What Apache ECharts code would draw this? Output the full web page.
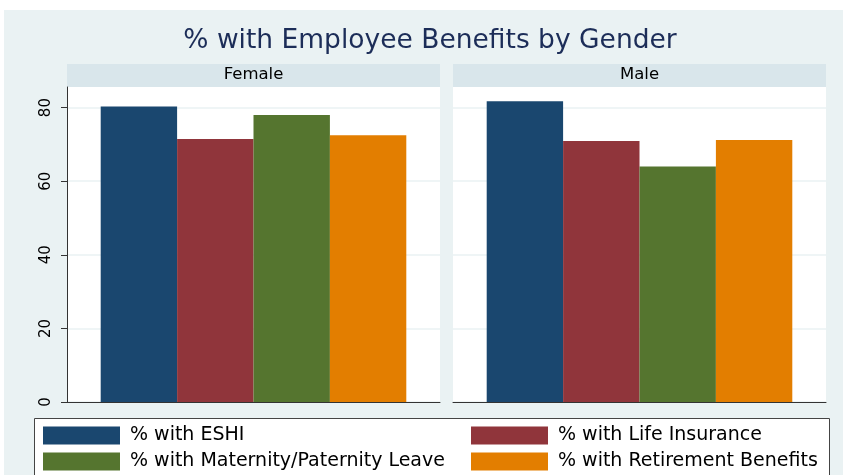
<!DOCTYPE html>
<html>
<head>
<meta charset="utf-8">
<script src="https://cdn.jsdelivr.net/npm/echarts@6/dist/echarts.min.js"></script>
<style>
html,body{margin:0;padding:0;background:#fff;}
#chart{width:843px;height:475px;}
</style>
</head>
<body>
<div id="chart"></div>
<script>
// ---- data ----
var panels = ['Female', 'Male'];
var seriesNames = ['% with ESHI', '% with Life Insurance', '% with Maternity/Paternity Leave', '% with Retirement Benefits'];
var femaleValues = [80.3, 71.5, 78.0, 72.5];
var maleValues = [81.7, 70.9, 64.0, 71.2];
var yTicks = [0, 20, 40, 60, 80];
var colors = ['#1A476F', '#90353B', '#55752F', '#E37E00'];
var titleText = '% with Employee Benefits by Gender';

var FONT = 'DejaVu Sans';
var panelValues = [femaleValues, maleValues];
var gridLefts = [67, 453];
var gridW = 373, gridTop = 87, gridH = 315;
var yMax = 85.6;

var grids = [], xAxes = [], yAxes = [], series = [], titles = [], graphics = [];

graphics.push({type:'rect', shape:{x:4, y:10, width:839, height:465}, style:{fill:'#EAF2F3'}, z:-10});

panels.forEach(function(p, gi){
  grids.push({left: gridLefts[gi], top: gridTop, width: gridW, height: gridH, backgroundColor:'#ffffff', show:true, borderWidth:0});
  graphics.push({type:'rect', shape:{x:gridLefts[gi], y:64, width:gridW, height:23}, style:{fill:'#D9E6EB'}, z:-5});
  titles.push({text: p, left: gridLefts[gi] + gridW/2, textAlign:'center', top: 66.5, padding:0,
    textStyle:{fontFamily: FONT, fontSize: 16.5, fontWeight:'normal', color:'#000'}});
  xAxes.push({type:'category', gridIndex: gi, data:[p],
    axisLine:{show:true, lineStyle:{color:'#333', width:1}}, axisTick:{show:false}, axisLabel:{show:false}, splitLine:{show:false}});
  yAxes.push({type:'value', gridIndex: gi, min:0, max:yMax, interval:20,
    axisLine:{show: gi===0, lineStyle:{color:'#333', width:1}},
    axisTick:{show: gi===0, length:6, lineStyle:{color:'#333'}, customValues: yTicks},
    axisLabel:{show: gi===0, rotate:90, margin:13, fontFamily: FONT, fontSize:15, color:'#000', customValues: yTicks},
    splitLine:{show:true, lineStyle:{color:'#EAF2F3', width:1.5}}});
  seriesNames.forEach(function(n, si){
    series.push({type:'bar', name:n, xAxisIndex: gi, yAxisIndex: gi, data:[panelValues[gi][si]],
      barWidth: 76.4, barGap:'0%', itemStyle:{color: colors[si]}, silent:true});
  });
});

titles.unshift({text: titleText, left: 430, textAlign:'center', top: 28, padding:0,
  textStyle:{fontFamily: FONT, fontSize: 26.5, fontWeight:'normal', color:'#1C2D58'}});

graphics.push({type:'rect', shape:{x:34.5, y:418.5, width:795, height:70}, style:{fill:'#fff', stroke:'#444', lineWidth:1}, z:-1});

var legendCommon = {orient:'vertical', itemWidth:77, itemHeight:18, itemGap:7, icon:'rect', selectedMode:false,
  textStyle:{fontFamily: FONT, fontSize:19, color:'#000', lineHeight:18, padding:[0,0,0,5]}, padding:0};

var chart = echarts.init(document.getElementById('chart'), null, {renderer:'canvas'});
chart.setOption({
  backgroundColor:'#ffffff',
  animation:false,
  title: titles,
  grid: grids,
  xAxis: xAxes,
  yAxis: yAxes,
  series: series,
  legend: [
    Object.assign({left:43, top:426, data:[seriesNames[0], seriesNames[2]]}, legendCommon),
    Object.assign({left:471, top:426, data:[seriesNames[1], seriesNames[3]]}, legendCommon)
  ],
  graphic: graphics
});
</script>
</body>
</html>
